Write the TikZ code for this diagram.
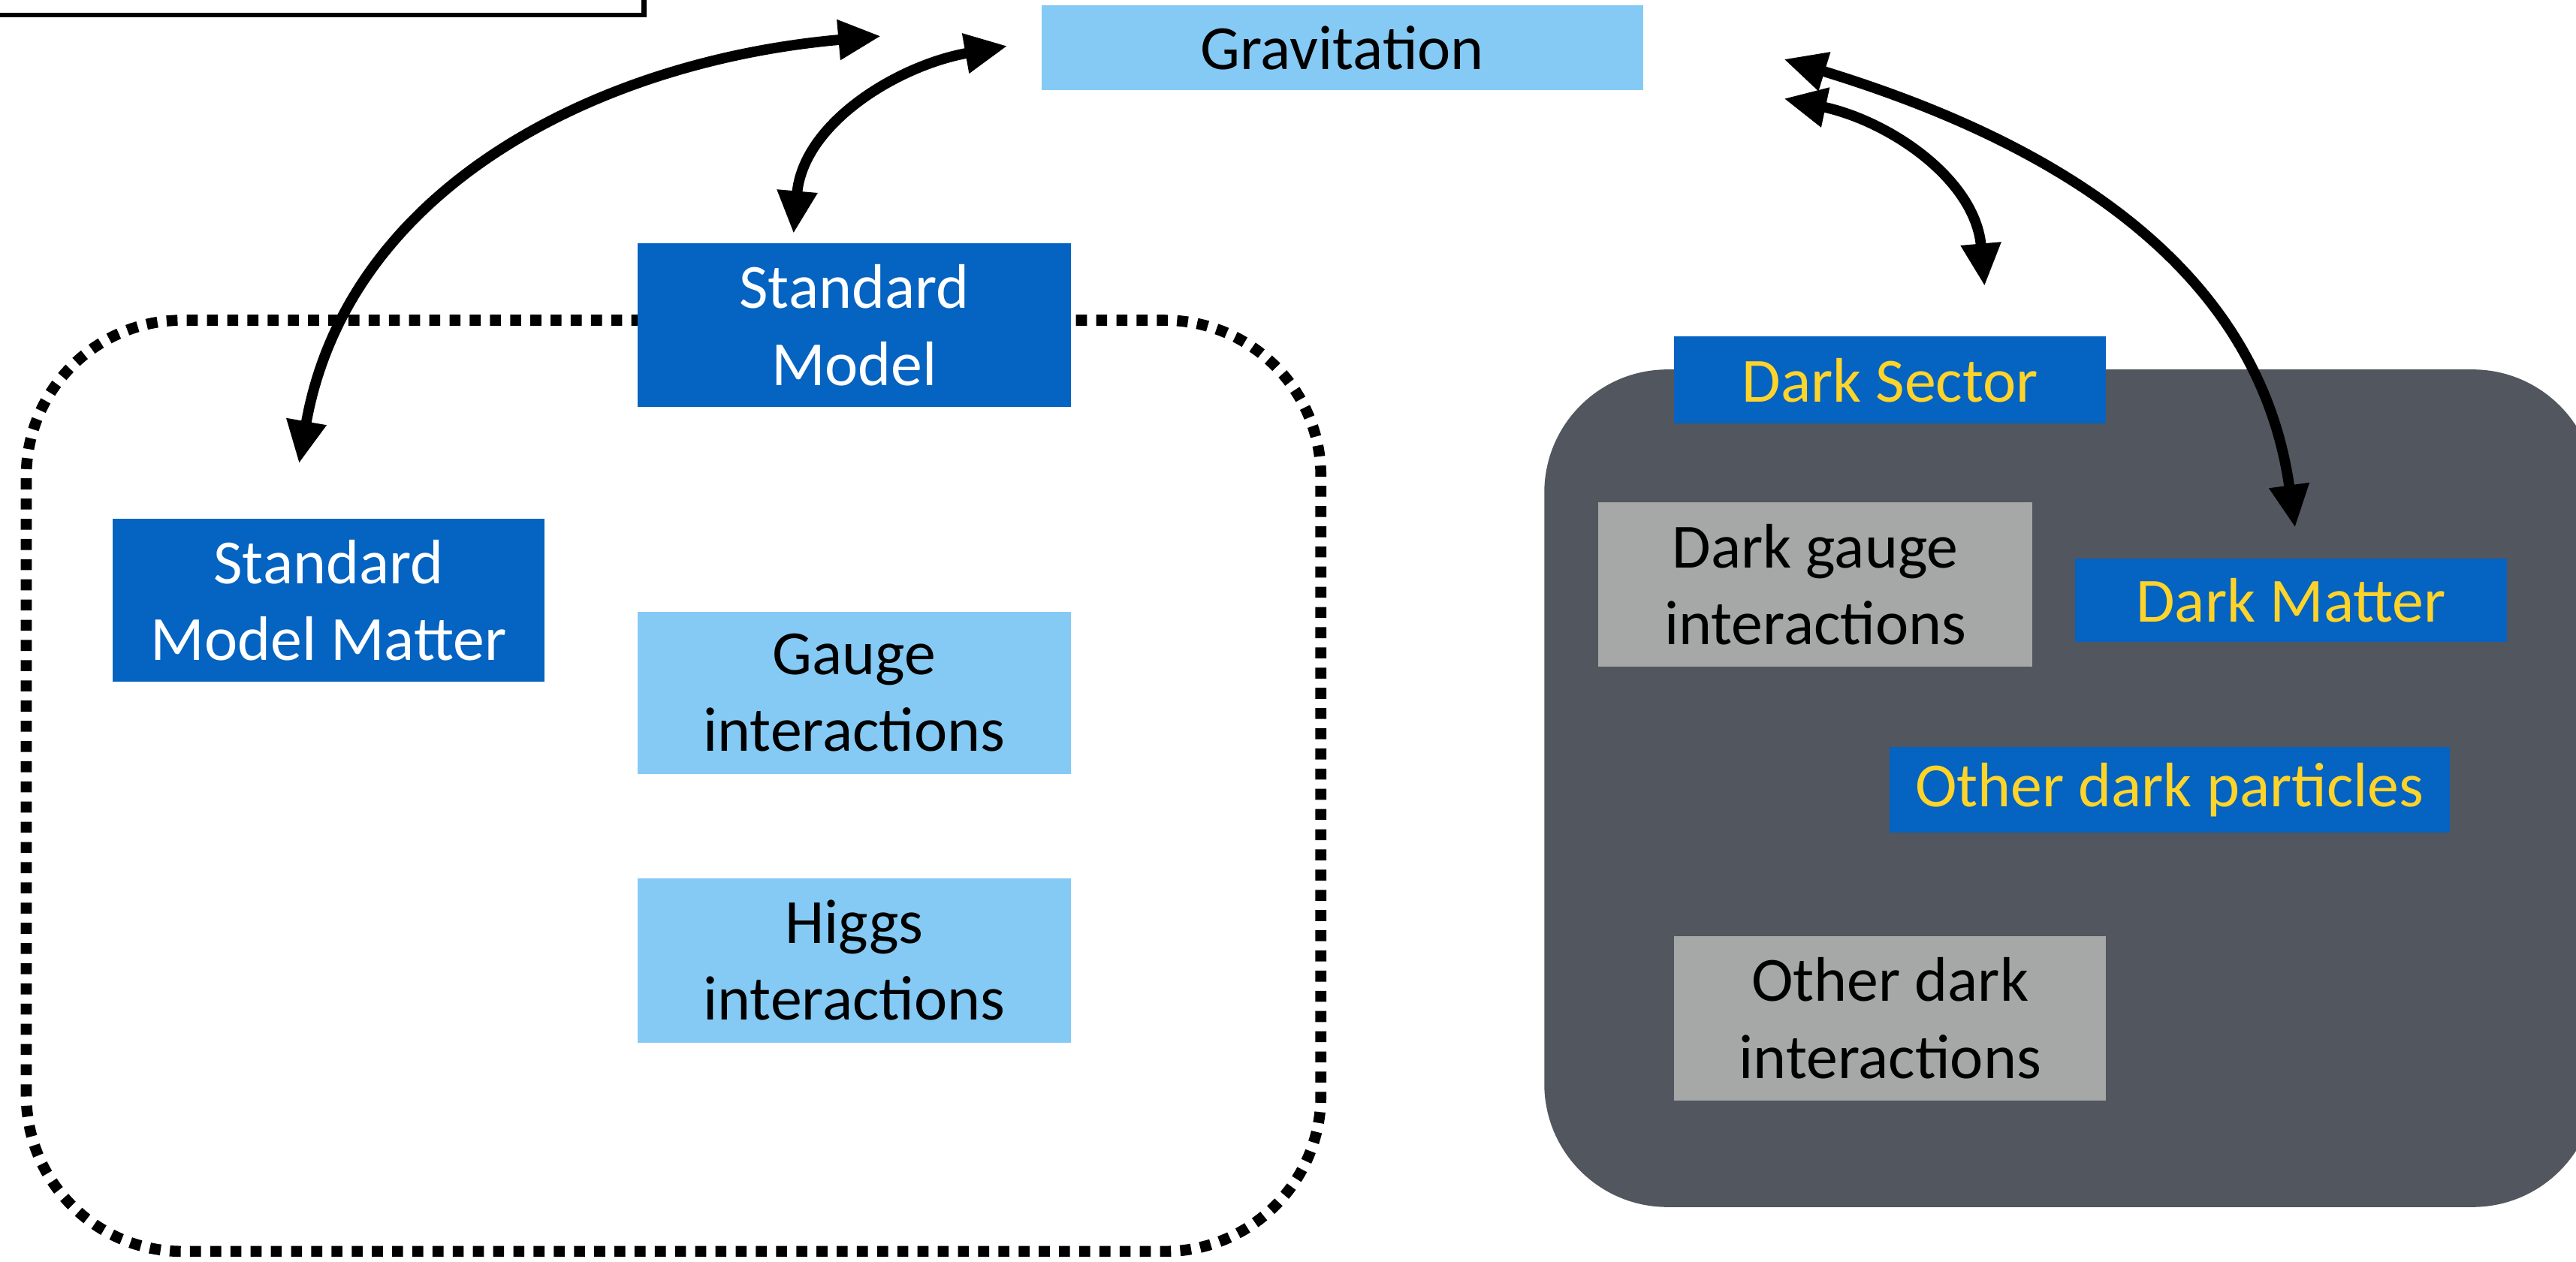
\documentclass[tikz,border=0pt]{standalone}
\usepackage{fontspec}
\setmainfont{Carlito}
\usetikzlibrary{arrows.meta,positioning,calc}
\definecolor{DeepBlue}{HTML}{0563C1}
\definecolor{SkyBlue}{HTML}{85CAF4}
\definecolor{Slate}{HTML}{52565E}
\definecolor{Stone}{HTML}{A5A8A7}
\definecolor{Amber}{HTML}{FFD42A}
\tikzset{
 box/.style={rectangle, inner sep=2pt, align=center, font=\fontsize{10.9}{13.3}\selectfont, minimum width=2.64cm, minimum height=1cm},
 skybox/.style={box, fill=SkyBlue, text=black},
 deepbox/.style={box, fill=DeepBlue, text=white},
 darkbox/.style={box, fill=DeepBlue, text=Amber, minimum height=0.52cm},
 stonebox/.style={box, fill=Stone, text=black},
 link/.style={{Triangle[length=0.26cm,width=0.23cm]}-{Triangle[length=0.26cm,width=0.23cm]}, line width=1.8pt}
}

\begin{document}
\begin{tikzpicture}
\useasboundingbox (0,0) rectangle (15.68,7.68);
% frames
\draw[line width=0.8pt, fill=white] (-0.2,7.59) rectangle (3.92,7.9);
\draw[line width=1.9pt, dash pattern=on 1.9pt off 1.6pt, rounded corners=0.95cm] (0.16,0.06) rectangle (8.04,5.73);
\fill[Slate, rounded corners=0.75cm] (9.40,0.33) rectangle (15.80,5.43);
% standard model side
\node[skybox, minimum width=3.66cm, minimum height=0.52cm] (grav) at (8.17,7.39) {Gravitation};
\node[deepbox] (sm) at (5.20,5.70) {Standard\\Model};
\node[deepbox, minimum width=2.63cm, minimum height=0.99cm] (smm) at (2.00,4.025) {Standard\\Model Matter};
\node[skybox, minimum height=0.99cm, below=1.23cm of sm] (gauge) {Gauge\\interactions};
\node[skybox, below=0.62cm of gauge] (higgs) {Higgs\\interactions};
% dark side
\node[darkbox, minimum width=2.63cm, minimum height=0.53cm] (dsec) at (11.505,5.365) {Dark Sector};
\node[stonebox] (dgauge) at (11.05,4.12) {Dark gauge\\interactions};
\node[darkbox, minimum width=2.63cm, minimum height=0.51cm] (dm) at (13.945,4.025) {Dark Matter};
\node[darkbox, minimum width=3.41cm] (odp) at (13.205,2.87) {Other dark particles};
\node[stonebox, minimum width=2.63cm] (odi) at (11.505,1.48) {Other dark\\interactions};
% links
\draw[link] ($(smm.north)+(-0.18,0.33)$) to[out=80,in=185] ($(grav.west)+(-0.97,0.07)$);
\draw[link] ($(sm.north)+(-0.37,0.05)$) to[out=85,in=190] ($(grav.west)+(-0.20,0.01)$);
\draw[link] ($(dsec.north)+(0.575,0.30)$) to[out=95,in=-12] ($(grav.east)+(0.85,-0.31)$);
\draw[link] ($(dm.north)+(0.025,0.18)$) to[out=98,in=-17] ($(grav.east)+(0.85,-0.07)$);
\end{tikzpicture}
\end{document}
